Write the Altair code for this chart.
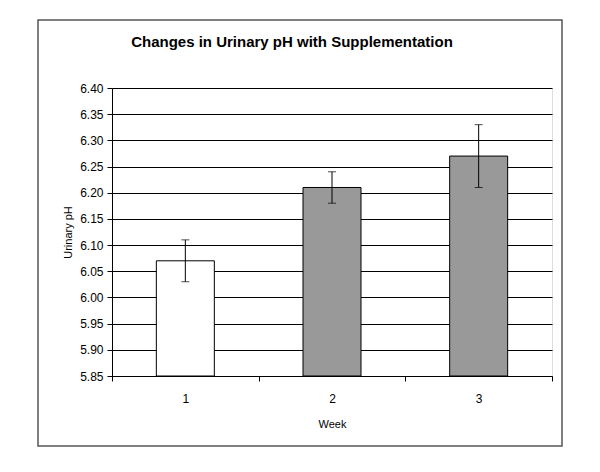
import altair as alt
import pandas as pd

weeks = ["1", "2", "3"]
means = [6.07, 6.21, 6.27]
lower = [6.03, 6.18, 6.21]
upper = [6.11, 6.24, 6.33]
groups = ["baseline", "supp", "supp"]
y_ticks = [5.85, 5.90, 5.95, 6.00, 6.05, 6.10, 6.15, 6.20, 6.25, 6.30, 6.35, 6.40]
title_text = "Changes in Urinary pH with Supplementation"

df = pd.DataFrame({"week": weeks, "mean": means, "lo": lower, "hi": upper, "group": groups})

FONT = "Liberation Sans"
W, H = 440, 288

xscale = alt.Scale(paddingInner=0, paddingOuter=0)
x = alt.X("week:N", title="Week", scale=xscale,
          axis=alt.Axis(labelAngle=0, tickBand="extent", domainColor="black", tickColor="black",
                        tickSize=5, labelPadding=12, titlePadding=14, labelFontSize=12,
                        titleFontSize=11, titleFontWeight="normal", labelColor="black",
                        titleColor="black", labelFont=FONT, titleFont=FONT))
yscale = alt.Scale(domain=[5.85, 6.40], zero=False, nice=False)

base = alt.Chart(df)

frame = base.mark_rect(fillOpacity=0, stroke="#555555", strokeWidth=1.5, clip=False).encode(
    x=alt.value(-74), x2=alt.value(450), y=alt.value(-68), y2=alt.value(358)
).transform_filter("datum.week == '1'")

title = base.mark_text(text=title_text, font=FONT, fontSize=15, fontWeight="bold",
                       color="black", align="center", baseline="middle").encode(
    x=alt.value(180), y=alt.value(-46)
).transform_filter("datum.week == '1'")

bars = base.mark_bar(size=58, stroke="black", strokeWidth=1).encode(
    x=x,
    y=alt.Y("mean:Q", scale=yscale, title="Urinary pH",
            axis=alt.Axis(values=y_ticks, tickCount=30, format=".2f", grid=True, gridColor="black",
                          gridOpacity=1, domainColor="black", tickColor="black", tickSize=5,
                          labelFontSize=12, titleFontSize=11, titleFontWeight="normal",
                          labelColor="black", titleColor="black", titlePadding=6,
                          labelFont=FONT, titleFont=FONT, labelPadding=4,
                          labelOverlap=False)),
    y2=alt.datum(5.85),
    fill=alt.Fill("group:N", scale=alt.Scale(domain=["baseline", "supp"], range=["white", "#999999"]),
                  legend=None),
)

rules = base.mark_rule(color="black", strokeWidth=1).encode(
    x=alt.X("week:N", scale=xscale), y=alt.Y("lo:Q", scale=yscale), y2="hi:Q"
)
caps_lo = base.mark_tick(color="black", size=8, thickness=1).encode(
    x=alt.X("week:N", scale=xscale), y=alt.Y("lo:Q", scale=yscale)
)
caps_hi = base.mark_tick(color="black", size=8, thickness=1).encode(
    x=alt.X("week:N", scale=xscale), y=alt.Y("hi:Q", scale=yscale)
)

chart = alt.layer(frame, title, bars, rules, caps_lo, caps_hi).properties(
    width=W, height=H,
    autosize=alt.AutoSizeParams(type="none"),
    padding={"left": 104, "top": 80, "right": 40, "bottom": 80},
).configure_view(stroke="#888888", strokeWidth=1).configure(background="white")

chart.save("out.html", embed_options={"renderer": "svg", "actions": False})
